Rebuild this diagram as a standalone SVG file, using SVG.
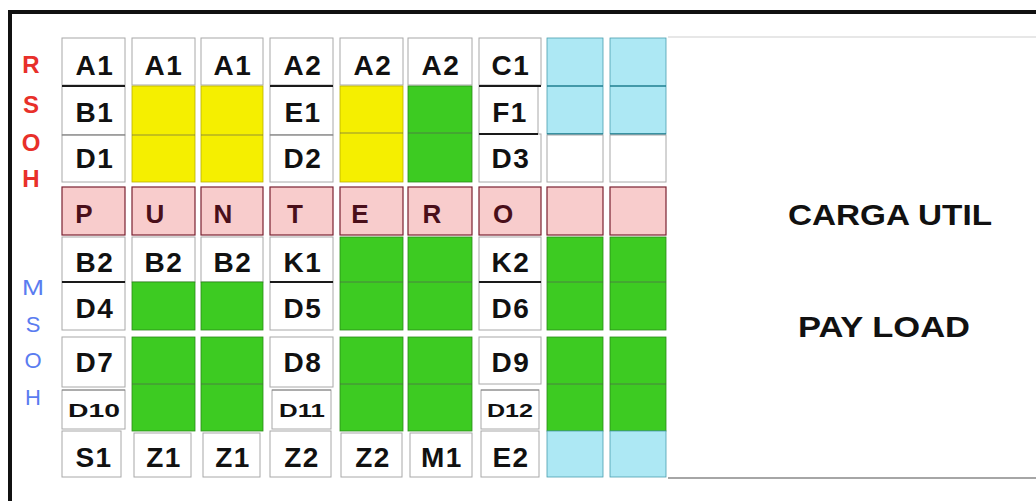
<svg xmlns="http://www.w3.org/2000/svg" width="1036" height="501" viewBox="0 0 1036 501">
<style>
.w{fill:#ffffff;stroke:#a8a8a8;stroke-width:1}
.y{fill:#f5ef00;stroke:#b8b000;stroke-width:0.8}
.g{fill:#3dcb22;stroke:#2a8a18;stroke-width:0.8}
.b{fill:#ade8f4;stroke:#4a9fae;stroke-width:0.8}
.p{fill:#f8cccc;stroke:#7a2030;stroke-width:1.2}
.dk{stroke:#1a1a1a;stroke-width:2}
.sep{stroke:#555;stroke-width:1;opacity:0.6}
.tsep{stroke:#1f7f90;stroke-width:1.5}
.t{font-family:"Liberation Sans",Arial,sans-serif;font-weight:bold;font-size:28px;letter-spacing:1.5px;fill:#111;text-anchor:middle}
.ts{font-family:"Liberation Sans",Arial,sans-serif;font-weight:bold;font-size:19px;fill:#111;text-anchor:middle}
.tp{font-family:"Liberation Sans",Arial,sans-serif;font-weight:bold;font-size:26px;fill:#4a0f1a;text-anchor:middle}
.lr{font-family:"Liberation Sans",Arial,sans-serif;font-weight:bold;font-size:24px;fill:#e8302a;text-anchor:middle}
.lb{font-family:"Liberation Sans",Arial,sans-serif;font-size:22px;fill:#5a7cf0;text-anchor:middle}
.big{font-family:"Liberation Sans",Arial,sans-serif;font-weight:bold;font-size:30px;fill:#111;text-anchor:middle}
</style>
<rect width="1036" height="501" fill="#ffffff"/>
<g id="frame">
<line x1="8" y1="12" x2="1036" y2="12" stroke="#111" stroke-width="4"/>
<line x1="10" y1="10" x2="10" y2="501" stroke="#111" stroke-width="4"/>
</g>
<g id="labels-rsoh">
<text class="lr" x="31" y="73">R</text>
<text class="lr" x="31" y="113">S</text>
<text class="lr" x="31" y="151">O</text>
<text class="lr" x="31" y="187">H</text>
</g>
<g id="labels-msoh">
<text class="lb" x="33" y="295" textLength="22" lengthAdjust="spacingAndGlyphs">M</text>
<text class="lb" x="33" y="332">S</text>
<text class="lb" x="33" y="368">O</text>
<text class="lb" x="33" y="405">H</text>
</g>
<g id="payload">
<rect x="668" y="37" width="368" height="441" fill="#ffffff"/>
<line x1="668" y1="37" x2="1036" y2="37" stroke="#cfcfcf" stroke-width="1"/>
<line x1="668" y1="478" x2="1036" y2="478" stroke="#888" stroke-width="1.5"/>
<text class="big" x="890" y="225" textLength="204" lengthAdjust="spacingAndGlyphs">CARGA UTIL</text>
<text class="big" x="884" y="337" textLength="172" lengthAdjust="spacingAndGlyphs">PAY LOAD</text>
</g>
<!-- column 1 -->
<g id="col1">
<rect class="w" x="62" y="38" width="63" height="47"/><text class="t" x="95" y="75">A1</text>
<rect class="w" x="62" y="86" width="63" height="49"/><text class="t" x="95" y="122">B1</text>
<rect class="w" x="62" y="135" width="63" height="47"/><text class="t" x="95" y="168">D1</text>
<line class="dk" x1="62" y1="86" x2="125" y2="86"/>
<line class="sep" x1="62" y1="135" x2="125" y2="135"/>
<rect class="p" x="62" y="187" width="63" height="48"/><text class="tp" x="84" y="223">P</text>
<rect class="w" x="62" y="237" width="63" height="45"/><text class="t" x="95" y="272">B2</text>
<rect class="w" x="62" y="282" width="63" height="48"/><text class="t" x="95" y="318">D4</text>
<line class="dk" x1="62" y1="282" x2="125" y2="282"/>
<rect class="w" x="62" y="337" width="63" height="50"/><text class="t" x="95" y="372">D7</text>
<rect class="w" x="62" y="390" width="63" height="39"/><text class="ts" x="94" y="417" textLength="52" lengthAdjust="spacingAndGlyphs">D10</text>
<line class="sep" x1="62" y1="390" x2="125" y2="390"/>
<rect class="w" x="62" y="431" width="59" height="46"/><text class="t" x="94" y="467">S1</text>
</g>
<!-- column 2 -->
<g id="col2">
<rect class="w" x="132" y="38" width="63" height="47"/><text class="t" x="164" y="75">A1</text>
<rect class="y" x="132" y="86" width="63" height="96"/>
<line class="sep" x1="132" y1="135" x2="195" y2="135"/>
<rect class="p" x="132" y="187" width="63" height="48"/><text class="tp" x="155" y="223">U</text>
<rect class="w" x="132" y="237" width="63" height="45"/><text class="t" x="164" y="272">B2</text>
<rect class="g" x="132" y="282" width="63" height="48"/>
<rect class="g" x="132" y="337" width="63" height="94"/>
<line class="sep" x1="132" y1="384" x2="195" y2="384"/>
<rect class="w" x="134" y="433" width="57" height="44"/><text class="t" x="164" y="467">Z1</text>
</g>
<!-- column 3 -->
<g id="col3">
<rect class="w" x="201" y="38" width="62" height="47"/><text class="t" x="233" y="75">A1</text>
<rect class="y" x="201" y="86" width="62" height="96"/>
<line class="sep" x1="201" y1="135" x2="263" y2="135"/>
<rect class="p" x="201" y="187" width="62" height="48"/><text class="tp" x="223" y="223">N</text>
<rect class="w" x="201" y="237" width="62" height="45"/><text class="t" x="233" y="272">B2</text>
<rect class="g" x="201" y="282" width="62" height="48"/>
<rect class="g" x="201" y="337" width="62" height="94"/>
<line class="sep" x1="201" y1="384" x2="263" y2="384"/>
<rect class="w" x="203" y="433" width="57" height="44"/><text class="t" x="233" y="467">Z1</text>
</g>
<!-- column 4 -->
<g id="col4">
<rect class="w" x="270" y="38" width="63" height="47"/><text class="t" x="303" y="75">A2</text>
<rect class="w" x="270" y="86" width="63" height="49"/><text class="t" x="303" y="122">E1</text>
<rect class="w" x="270" y="135" width="63" height="47"/><text class="t" x="303" y="168">D2</text>
<line class="dk" x1="270" y1="86" x2="333" y2="86"/>
<line class="sep" x1="270" y1="135" x2="333" y2="135"/>
<rect class="p" x="270" y="187" width="63" height="48"/><text class="tp" x="295" y="223">T</text>
<rect class="w" x="270" y="237" width="63" height="45"/><text class="t" x="303" y="272">K1</text>
<rect class="w" x="270" y="282" width="63" height="48"/><text class="t" x="303" y="318">D5</text>
<line class="dk" x1="270" y1="282" x2="333" y2="282"/>
<rect class="w" x="270" y="337" width="63" height="50"/><text class="t" x="303" y="372">D8</text>
<rect class="w" x="272" y="390" width="59" height="39"/><text class="ts" x="302" y="417" textLength="46" lengthAdjust="spacingAndGlyphs">D11</text>
<line class="sep" x1="272" y1="390" x2="331" y2="390"/>
<rect class="w" x="270" y="431" width="61" height="46"/><text class="t" x="302" y="467">Z2</text>
</g>
<!-- column 5 -->
<g id="col5">
<rect class="w" x="340" y="38" width="63" height="47"/><text class="t" x="373" y="75">A2</text>
<rect class="y" x="340" y="86" width="63" height="96"/>
<line class="sep" x1="340" y1="133" x2="403" y2="133"/>
<rect class="p" x="340" y="187" width="63" height="48"/><text class="tp" x="360" y="223">E</text>
<rect class="g" x="340" y="237" width="63" height="93"/>
<line class="sep" x1="340" y1="282" x2="403" y2="282"/>
<rect class="g" x="340" y="337" width="63" height="94"/>
<line class="sep" x1="340" y1="384" x2="403" y2="384"/>
<rect class="w" x="341" y="433" width="61" height="44"/><text class="t" x="373" y="467">Z2</text>
</g>
<!-- column 6 -->
<g id="col6">
<rect class="w" x="408" y="38" width="64" height="47"/><text class="t" x="441" y="75">A2</text>
<rect class="g" x="408" y="86" width="64" height="96"/>
<line class="sep" x1="408" y1="133" x2="472" y2="133"/>
<rect class="p" x="408" y="187" width="64" height="48"/><text class="tp" x="432" y="223">R</text>
<rect class="g" x="408" y="237" width="64" height="93"/>
<line class="sep" x1="408" y1="282" x2="472" y2="282"/>
<rect class="g" x="408" y="337" width="64" height="94"/>
<line class="sep" x1="408" y1="384" x2="472" y2="384"/>
<rect class="w" x="410" y="433" width="62" height="44"/><text class="t" x="442" y="467">M1</text>
</g>
<!-- column 7 -->
<g id="col7">
<rect class="w" x="479" y="38" width="62" height="47"/><text class="t" x="511" y="75">C1</text>
<rect class="w" x="479" y="86" width="59" height="48"/><text class="t" x="510" y="122">F1</text>
<rect class="w" x="479" y="134" width="62" height="48"/><text class="t" x="511" y="168">D3</text>
<line class="dk" x1="479" y1="86" x2="541" y2="86"/>
<line class="dk" x1="479" y1="134" x2="538" y2="134"/>
<rect class="p" x="479" y="187" width="62" height="48"/><text class="tp" x="503" y="223">O</text>
<rect class="w" x="479" y="237" width="62" height="45"/><text class="t" x="511" y="272">K2</text>
<rect class="w" x="479" y="282" width="62" height="48"/><text class="t" x="511" y="318">D6</text>
<line class="dk" x1="479" y1="282" x2="541" y2="282"/>
<rect class="w" x="479" y="337" width="62" height="47"/><text class="t" x="511" y="372">D9</text>
<rect class="w" x="481" y="390" width="58" height="39"/><text class="ts" x="510" y="417" textLength="46" lengthAdjust="spacingAndGlyphs">D12</text>
<line class="sep" x1="481" y1="390" x2="539" y2="390"/>
<rect class="w" x="481" y="431" width="58" height="46"/><text class="t" x="511" y="467">E2</text>
</g>
<!-- column 8 -->
<g id="col8">
<rect class="b" x="547" y="38" width="56" height="96"/>
<line class="tsep" x1="547" y1="86" x2="603" y2="86"/>
<line class="tsep" x1="547" y1="134" x2="603" y2="134"/>
<rect class="w" x="547" y="135" width="56" height="47"/>
<rect class="p" x="547" y="187" width="56" height="48"/>
<rect class="g" x="547" y="237" width="56" height="93"/>
<line class="sep" x1="547" y1="282" x2="603" y2="282"/>
<rect class="g" x="547" y="337" width="56" height="94"/>
<line class="sep" x1="547" y1="384" x2="603" y2="384"/>
<rect class="b" x="547" y="431" width="56" height="46"/>
</g>
<!-- column 9 -->
<g id="col9">
<rect class="b" x="610" y="38" width="56" height="96"/>
<line class="tsep" x1="610" y1="86" x2="666" y2="86"/>
<line class="tsep" x1="610" y1="134" x2="666" y2="134"/>
<rect class="w" x="610" y="135" width="56" height="47"/>
<rect class="p" x="610" y="187" width="56" height="48"/>
<rect class="g" x="610" y="237" width="56" height="93"/>
<line class="sep" x1="610" y1="282" x2="666" y2="282"/>
<rect class="g" x="610" y="337" width="56" height="94"/>
<line class="sep" x1="610" y1="384" x2="666" y2="384"/>
<rect class="b" x="610" y="431" width="56" height="46"/>
</g>
<g id="connectors"/>
</svg>
